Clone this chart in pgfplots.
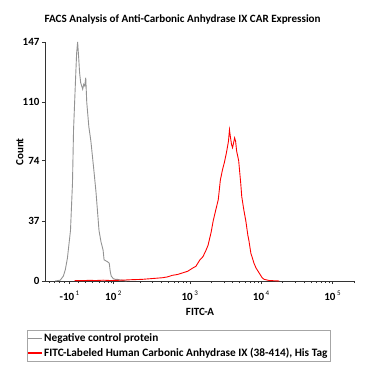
\documentclass[border=0pt]{standalone}
\usepackage{pgfplots}
\pgfplotsset{compat=1.18}
\usepackage{fontspec}
\setmainfont{Carlito}
\newcommand{\sups}[1]{\hspace{1.5pt}\raisebox{5pt}{\mdseries\fontsize{7}{8}\selectfont #1}}
\begin{document}
\begin{tikzpicture}
\path[use as bounding box] (0pt,0pt) rectangle (378pt,378pt);
\begin{axis}[
  at={(45pt,97pt)}, anchor=south west,
  scale only axis, width=310pt, height=239pt,
  xmin=0.986, xmax=5.33, ymin=0, ymax=147,
  axis lines*=left,
  axis line style={black!80, line width=0.5pt},
  clip=false,
  xtick={1.329,1.943,3.014,4.014,5.014},
  xticklabels={{-10\sups{1}},{10\sups{2}},{10\sups{3}},{10\sups{4}},{10\sups{5}}},
  minor xtick={1.05,1.12,1.19,1.26,1.45,1.55,1.65,1.74,1.81,1.87,1.91,
    2.315,2.491,2.616,2.713,2.792,2.859,2.917,2.968,
    3.315,3.491,3.616,3.713,3.792,3.859,3.917,3.968,
    4.315,4.491,4.616,4.713,4.792,4.859,4.917,4.968,5.315},
  ytick={0,37,74,110,147},
  yticklabels={0,37,74,110,147},
  minor y tick num=3,
  tick align=outside,
  major tick length=3pt, minor tick length=2pt,
  tick style={black!80, line width=0.4pt},
  tick label style={font=\bfseries\fontsize{11}{13}\selectfont},
  yticklabel style={xshift=1pt},
  xticklabel style={yshift=-3pt},
  title={FACS Analysis of Anti-Carbonic Anhydrase IX CAR Expression},
  title style={at={(0.444,1)}, anchor=base, yshift=13pt, font=\bfseries\fontsize{11.1}{13}\selectfont},
  xlabel={FITC-A},
  xlabel style={at={(0.5,0)}, anchor=base, yshift=-34pt, font=\bfseries\fontsize{11}{13}\selectfont},
  ylabel={Count},
  ylabel style={at={(-0.081,0.54)}, anchor=center, font=\bfseries\fontsize{11}{13}\selectfont},
  legend style={at={(-0.058,-0.205)}, anchor=north west, draw=gray!70,
    font=\bfseries\fontsize{11.3}{13.5}\selectfont, inner xsep=1pt, inner ysep=1.5pt,
    row sep=1pt},
  legend cell align=left,
  legend image code/.code={\fill[#1, draw=none] (0pt,-0.6pt) rectangle (14pt,0.6pt);},
]
\addplot[gray!85, line width=0.9pt] coordinates {
(1.129,0) (1.2,0.5) (1.243,3) (1.271,7) (1.3,14) (1.343,31) (1.371,60) (1.386,93)
(1.414,124) (1.429,140) (1.443,147) (1.457,138) (1.471,128) (1.486,122) (1.5,120)
(1.514,118) (1.529,121) (1.543,120) (1.557,125) (1.571,110) (1.6,95) (1.629,86)
(1.671,68) (1.7,55) (1.743,31) (1.771,24) (1.8,19) (1.814,13) (1.857,12) (1.886,11)
(1.9,6) (1.914,3) (1.943,1.5) (1.971,1) (2.0,1) (2.057,0.5) (2.129,0)
};
\addlegendentry{Negative control protein}
\addplot[red, line width=0.9pt] coordinates {
(1.4,0.3) (1.5,0.2) (1.6,0.4) (1.7,0.3) (1.8,0.5) (1.9,0.3) (2.0,0.4)
(2.057,0.5) (2.2,0.8) (2.343,1) (2.486,1.5) (2.629,2) (2.7,2.5) (2.771,3.5) (2.843,4)
(2.914,5) (2.986,6) (3.057,8) (3.1,9) (3.157,13) (3.2,15) (3.243,19) (3.271,22)
(3.314,30) (3.343,37) (3.386,45) (3.414,50) (3.443,62) (3.471,68) (3.5,73) (3.529,79)
(3.557,86) (3.571,93) (3.586,88) (3.6,84) (3.614,82) (3.629,85) (3.643,88) (3.657,86)
(3.671,80) (3.7,74) (3.729,60) (3.743,52) (3.771,44) (3.8,37) (3.829,28) (3.843,25)
(3.871,17) (3.886,15) (3.914,11) (3.943,8) (3.986,5) (4.029,2) (4.057,1) (4.129,0.3) (4.271,0)
};
\addlegendentry{FITC-Labeled Human Carbonic Anhydrase IX (38-414), His Tag}
\end{axis}
\end{tikzpicture}
\end{document}
